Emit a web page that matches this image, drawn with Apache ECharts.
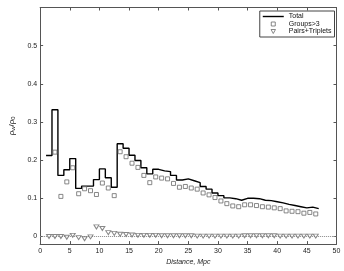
<!DOCTYPE html>
<html><head><meta charset="utf-8">
<script src="https://cdn.jsdelivr.net/npm/echarts@6/dist/echarts.min.js"></script>
<style>html,body{margin:0;padding:0;background:#fff}#c{width:344px;height:271px}</style>
</head><body><div id="c"></div>
<script>
// bin edges of the "Total" step histogram (Mpc)
const binEdges = [1,2,3,4,5,6,7,8,9,10,11,12,13,14,15,16,17,18,19,20,21,22,23,24,25,26,27,28,29,30,31,32,33,34,35,36,37,38,39,40,41,42,43,44,45,46,47];
// bin centres for the point series (Mpc)
const binCenters = [1.5,2.5,3.5,4.5,5.5,6.5,7.5,8.5,9.5,10.5,11.5,12.5,13.5,14.5,15.5,16.5,17.5,18.5,19.5,20.5,21.5,22.5,23.5,24.5,25.5,26.5,27.5,28.5,29.5,30.5,31.5,32.5,33.5,34.5,35.5,36.5,37.5,38.5,39.5,40.5,41.5,42.5,43.5,44.5,45.5,46.5];
const totalValues = [0.212,0.332,0.160,0.175,0.204,0.126,0.132,0.132,0.149,0.177,0.154,0.129,0.243,0.231,0.213,0.199,0.180,0.164,0.176,0.172,0.170,0.160,0.148,0.151,0.146,0.141,0.131,0.124,0.114,0.107,0.101,0.099,0.095,0.100,0.100,0.099,0.095,0.094,0.091,0.088,0.084,0.081,0.078,0.075,0.077,0.073];
const groupsValues = [null,0.221,0.105,0.143,0.180,0.112,0.125,0.120,0.110,0.140,0.127,0.107,0.222,0.209,0.192,0.181,0.160,0.141,0.156,0.153,0.151,0.139,0.129,0.131,0.127,0.124,0.114,0.109,0.102,0.093,0.086,0.080,0.078,0.083,0.083,0.081,0.078,0.077,0.075,0.073,0.067,0.066,0.065,0.061,0.063,0.059];
const pairsValues = [0.000,0.000,0.000,-0.002,0.003,-0.003,-0.006,-0.001,0.025,0.021,0.010,0.008,0.006,0.005,0.004,0.003,0.003,0.003,0.003,0.002,0.002,0.002,0.002,0.002,0.002,0.001,0.001,0.001,0.001,0.001,0.001,0.001,0.001,0.002,0.002,0.002,0.002,0.002,0.002,0.001,0.001,0.001,0.001,0.001,0.001,0.001];
const xTicks = [0,5,10,15,20,25,30,35,40,45,50];
const yTicks = [0,0.1,0.2,0.3,0.4,0.5];

const FONT = 'Liberation Sans, Arial, sans-serif';
const axisCol = '#555';
const markCol = '#6a6a6a';

const totalData = binEdges.map((e, i) => [e, totalValues[Math.min(i, totalValues.length - 1)]]);
const groupsData = binCenters.map((c, i) => [c, groupsValues[i]]).filter(d => d[1] !== null);
const pairsData = binCenters.map((c, i) => [c, pairsValues[i]]);

const chart = echarts.init(document.getElementById('c'), null, {renderer: 'canvas'});
const commonX = {
  type: 'value', min: 0, max: 50, interval: 5,
  axisLine: {show: true, onZero: false, lineStyle: {color: axisCol, width: 1}},
  axisTick: {show: true, inside: true, length: 3, lineStyle: {color: axisCol}},
  splitLine: {show: false}
};
const commonY = {
  type: 'value', min: -0.02, max: 0.6,
  axisLine: {show: true, onZero: false, lineStyle: {color: axisCol, width: 1}},
  axisTick: {show: true, inside: true, length: 3, customValues: yTicks, lineStyle: {color: axisCol}},
  splitLine: {show: false}
};
chart.setOption({
  animation: false,
  backgroundColor: '#fff',
  textStyle: {fontFamily: FONT},
  grid: {left: 28.5, right: 7.5, top: 7.5, bottom: 20, containLabel: false},
  legend: {
    orient: 'vertical', right: 9.5, top: 11,
    backgroundColor: '#fff', borderColor: '#444', borderWidth: 1,
    padding: [2, 3, 2, 3], itemGap: 0.5, itemWidth: 21, itemHeight: 4,
    textStyle: {fontSize: 7, color: '#111', fontFamily: FONT},
    data: [
      {name: 'Total', icon: 'path://M0,0L30,0L30,2L0,2Z', itemStyle: {color: '#000', borderWidth: 0}},
      {name: 'Groups>3', icon: 'path://M0,0L10,0L10,10L0,10Z',
        itemStyle: {color: '#fff', borderColor: markCol, borderWidth: 1}},
      {name: 'Pairs+Triplets', icon: 'path://M0,0L10,0L5,9Z',
        itemStyle: {color: '#fff', borderColor: markCol, borderWidth: 1}}
    ]
  },
  xAxis: [
    Object.assign({}, commonX, {
      position: 'bottom',
      name: 'Distance, Mpc', nameLocation: 'middle', nameGap: 14,
      nameTextStyle: {fontSize: 7, fontStyle: 'italic', color: '#222', fontFamily: FONT},
      axisLabel: {show: true, fontSize: 7, color: '#222', margin: 3, fontFamily: FONT}
    }),
    Object.assign({}, commonX, {position: 'top', axisLabel: {show: false}})
  ],
  yAxis: [
    Object.assign({}, commonY, {
      position: 'left',
      name: 'ρ{s|w}/ρ{s|0}', nameLocation: 'middle', nameGap: 17, nameRotate: 90,
      nameTextStyle: {fontSize: 8, color: '#222', fontFamily: FONT,
        rich: {s: {fontSize: 6, verticalAlign: 'bottom', padding: [3, 0, 0, 0], color: '#222'}}},
      axisLabel: {show: true, fontSize: 7, color: '#222', margin: 3, customValues: yTicks, fontFamily: FONT,
        formatter: v => String(Math.round(v * 10) / 10)}
    }),
    Object.assign({}, commonY, {position: 'right', axisLabel: {show: false}})
  ],
  series: [
    {
      name: 'Total', type: 'line', step: 'end', data: totalData,
      symbol: 'none', showSymbol: false,
      lineStyle: {color: '#000', width: 1.4}, itemStyle: {color: '#000'}, z: 3
    },
    {
      name: 'Groups>3', type: 'scatter', data: groupsData,
      symbol: 'rect', symbolSize: 4,
      itemStyle: {color: '#fff', borderColor: markCol, borderWidth: 1}, z: 4
    },
    {
      name: 'Pairs+Triplets', type: 'scatter', data: pairsData,
      symbol: 'triangle', symbolSize: [5, 4], symbolRotate: 180,
      itemStyle: {color: '#fff', borderColor: markCol, borderWidth: 1}, z: 4,
      markLine: {
        silent: true, symbol: 'none', label: {show: false},
        lineStyle: {type: 'dotted', color: '#888', width: 1},
        data: [{yAxis: 0}], z: 1
      }
    }
  ]
});
</script>
</body></html>
